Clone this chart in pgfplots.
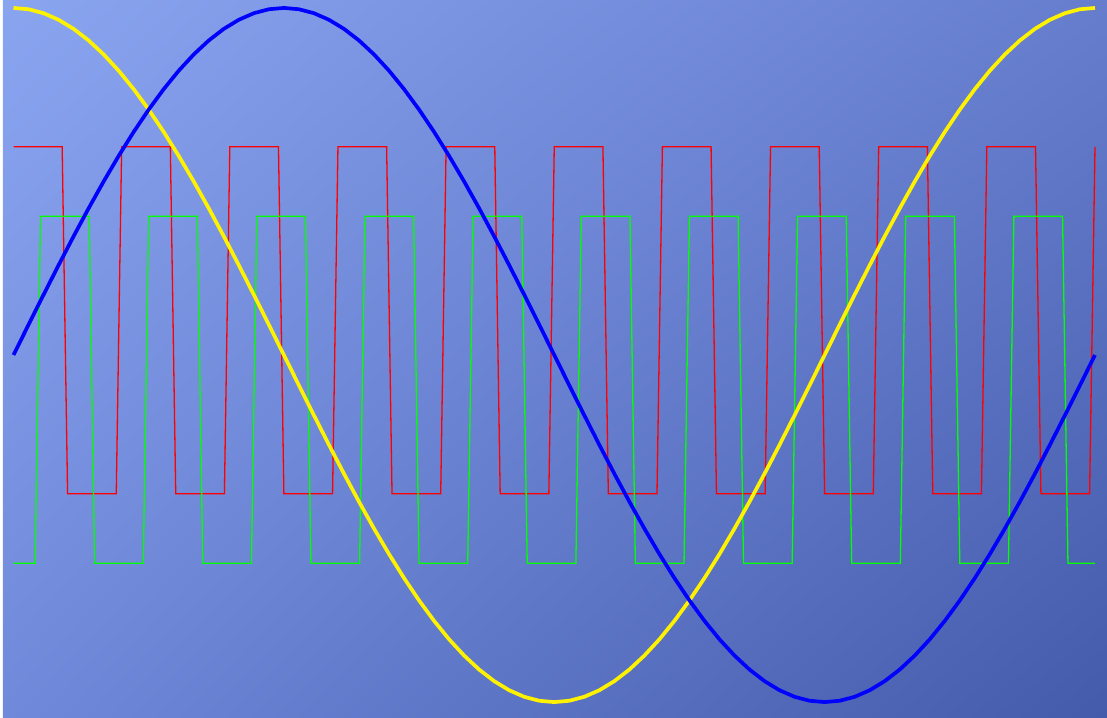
\documentclass[border={1.5pt 0pt 0pt 0.5pt}]{standalone}
\usepackage{pgfplots}
\usepackage{pgfplotstable}
\pgfplotsset{compat=1.18}
\usetikzlibrary{shadings}

\definecolor{bgul}{RGB}{138,165,240}
\definecolor{bgur}{RGB}{102,125,206}
\definecolor{bgll}{RGB}{112,137,218}
\definecolor{bglr}{RGB}{68,90,170}

% x (deg), sin, cos
\pgfplotstableread{
x sin cos
0 0 1
5 0.0872 0.9962
10 0.1736 0.9848
15 0.2588 0.9659
20 0.3420 0.9397
25 0.4226 0.9063
30 0.5 0.8660
35 0.5736 0.8192
40 0.6428 0.7660
45 0.7071 0.7071
50 0.7660 0.6428
55 0.8192 0.5736
60 0.8660 0.5
65 0.9063 0.4226
70 0.9397 0.3420
75 0.9659 0.2588
80 0.9848 0.1736
85 0.9962 0.0872
90 1 0
95 0.9962 -0.0872
100 0.9848 -0.1736
105 0.9659 -0.2588
110 0.9397 -0.3420
115 0.9063 -0.4226
120 0.8660 -0.5
125 0.8192 -0.5736
130 0.7660 -0.6428
135 0.7071 -0.7071
140 0.6428 -0.7660
145 0.5736 -0.8192
150 0.5 -0.8660
155 0.4226 -0.9063
160 0.3420 -0.9397
165 0.2588 -0.9659
170 0.1736 -0.9848
175 0.0872 -0.9962
180 0 -1
185 -0.0872 -0.9962
190 -0.1736 -0.9848
195 -0.2588 -0.9659
200 -0.3420 -0.9397
205 -0.4226 -0.9063
210 -0.5 -0.8660
215 -0.5736 -0.8192
220 -0.6428 -0.7660
225 -0.7071 -0.7071
230 -0.7660 -0.6428
235 -0.8192 -0.5736
240 -0.8660 -0.5
245 -0.9063 -0.4226
250 -0.9397 -0.3420
255 -0.9659 -0.2588
260 -0.9848 -0.1736
265 -0.9962 -0.0872
270 -1 0
275 -0.9962 0.0872
280 -0.9848 0.1736
285 -0.9659 0.2588
290 -0.9397 0.3420
295 -0.9063 0.4226
300 -0.8660 0.5
305 -0.8192 0.5736
310 -0.7660 0.6428
315 -0.7071 0.7071
320 -0.6428 0.7660
325 -0.5736 0.8192
330 -0.5 0.8660
335 -0.4226 0.9063
340 -0.3420 0.9397
345 -0.2588 0.9659
350 -0.1736 0.9848
355 -0.0872 0.9962
360 0 1
}\trig

\begin{document}
\begin{tikzpicture}
\begin{axis}[
    scale only axis,
    width=552pt, height=358pt,
    xmin=-3.5, xmax=364,
    ymin=-1.043, ymax=1.02,
    ticks=none,
    axis line style={draw=none},
    axis background/.style={shade,
        upper left=bgul, upper right=bgur,
        lower left=bgll, lower right=bglr},
]
% red square wave
\addplot[red, line width=0.65pt] coordinates {
(0,0.6) (16.2,0.6) (18,-0.4) (34.2,-0.4) (36,0.6) (52.2,0.6) (54,-0.4) (70.2,-0.4)
(72,0.6) (88.2,0.6) (90,-0.4) (106.2,-0.4) (108,0.6) (124.2,0.6) (126,-0.4) (142.2,-0.4)
(144,0.6) (160.2,0.6) (162,-0.4) (178.2,-0.4) (180,0.6) (196.2,0.6) (198,-0.4) (214.2,-0.4)
(216,0.6) (232.2,0.6) (234,-0.4) (250.2,-0.4) (252,0.6) (268.2,0.6) (270,-0.4) (286.2,-0.4)
(288,0.6) (304.2,0.6) (306,-0.4) (322.2,-0.4) (324,0.6) (340.2,0.6) (342,-0.4) (358.2,-0.4)
(360,0.6)};
% green square wave
\addplot[green, line width=0.65pt] coordinates {
(0,-0.6) (7.2,-0.6) (9,0.4) (25.2,0.4) (27,-0.6) (43.2,-0.6) (45,0.4) (61.2,0.4)
(63,-0.6) (79.2,-0.6) (81,0.4) (97.2,0.4) (99,-0.6) (115.2,-0.6) (117,0.4) (133.2,0.4)
(135,-0.6) (151.2,-0.6) (153,0.4) (169.2,0.4) (171,-0.6) (187.2,-0.6) (189,0.4) (205.2,0.4)
(207,-0.6) (223.2,-0.6) (225,0.4) (241.2,0.4) (243,-0.6) (259.2,-0.6) (261,0.4) (277.2,0.4)
(279,-0.6) (295.2,-0.6) (297,0.4) (313.2,0.4) (315,-0.6) (331.2,-0.6) (333,0.4) (349.2,0.4)
(351,-0.6) (360,-0.6)};
% cosine and sine
\addplot[yellow, line width=1.85pt] table[x=x, y=cos] {\trig};
\addplot[blue, line width=1.85pt] table[x=x, y=sin] {\trig};
\end{axis}
\end{tikzpicture}
\end{document}
